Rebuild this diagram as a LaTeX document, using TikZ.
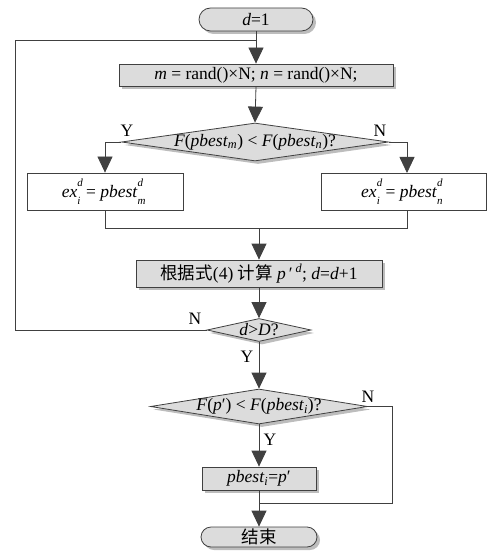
\documentclass[tikz,border=0pt]{standalone}
\usepackage{fontspec}
\setmainfont{Liberation Serif}
\newfontfamily\cjk{Noto Sans CJK SC}
\usetikzlibrary{arrows.meta,shapes.geometric,shapes.misc,shadows}
\definecolor{ln}{HTML}{404040}
\definecolor{fl}{HTML}{DCDCDC}
\definecolor{sh}{HTML}{BDBDBD}
\newcommand\ssc[3][0.5em]{\makebox[#1][l]{\rlap{\raisebox{0.6em}{\fontsize{11}{11}\selectfont\itshape #2}}\raisebox{-0.4em}{\fontsize{11}{11}\selectfont\itshape #3}}}
\begin{document}
\begin{tikzpicture}[x=1pt,y=-1pt,
  base/.style={draw=ln, line width=0.8pt, inner sep=0pt, font=\fontsize{17.5}{19}\selectfont},
  shd/.style={drop shadow={shadow xshift=3pt, shadow yshift=-3pt, fill=sh, opacity=1}},
  term/.style={base, shd, fill=fl, rounded rectangle},
  proc/.style={base, shd, fill=fl, rectangle},
  plain/.style={base, fill=white, rectangle},
  dec/.style={base, shd, fill=fl, diamond},
  lbl/.style={font=\fontsize{17.5}{19}\selectfont, inner sep=0pt},
  arr/.style={draw=ln, line width=0.8pt, -{Triangle[width=15pt,length=16pt]}},
  con/.style={draw=ln, line width=0.8pt}]
\useasboundingbox (0,0) rectangle (487,553);

\node[term, minimum width=114pt, minimum height=23pt] (start) at (256,19.5) {\textit{d}=1};
\node[proc, minimum width=274pt, minimum height=22pt] (b1) at (256,75) {\textit{m} = rand()×N; \textit{n} = rand()×N;};
\node[dec, minimum width=267pt, minimum height=38pt,
  label={[lbl]center:{\textit{F}(\textit{pbest}\textsubscript{\textit{m}}) < \textit{F}(\textit{pbest}\textsubscript{\textit{n}})?}}] (d1) at (255,142) {};
\node[plain, minimum width=156pt, minimum height=37pt] (b2) at (105,191.5) {\textit{ex}\ssc{d}{i}= \textit{pbest}\ssc[0.6em]{d}{m}};
\node[plain, minimum width=165pt, minimum height=37pt] (b3) at (403.5,191.5) {\textit{ex}\ssc{d}{i}= \textit{pbest}\ssc{d}{n}};
\node[proc, minimum width=246pt, minimum height=27pt] (b4) at (259,273.5) {{\cjk 根据式}(4) {\cjk 计算} \textit{p}\,′\,\textsuperscript{\textit{d}}; \textit{d}=\textit{d}+1};
\node[dec, minimum width=104pt, minimum height=23pt,
  label={[lbl]center:{\textit{d}>\textit{D}?}}] (d2) at (259,330) {};
\node[dec, minimum width=217pt, minimum height=35pt,
  label={[lbl]center:{\textit{F}(\textit{p}′) < \textit{F}(\textit{pbest}\textsubscript{\textit{i}})?}}] (d3) at (259,406.5) {};
\node[proc, minimum width=114pt, minimum height=23pt] (b5) at (259,478.5) {\textit{pbest}\textsubscript{\textit{i}}=\textit{p}′};
\node[term, minimum width=116pt, minimum height=20pt] (end) at (259,537) {{\cjk 结束}};

\node[lbl] (y1) at (127,131) {Y};
\node[lbl] (n1) at (380,131) {N};
\node[lbl] (n2) at (195,319) {N};
\node[lbl] (y2) at (247,357) {Y};
\node[lbl] (n3) at (368,397) {N};
\node[lbl] (y3) at (270,440) {Y};

\coordinate (j) at (256,40);
\coordinate (lt) at (15,40);
\coordinate (lb) at (15,330);
\coordinate (bt) at (407,173);
\coordinate (bb) at (407,210);
\coordinate (m2) at (105,228);
\coordinate (m3) at (407,228);
\coordinate (mc) at (259,228);
\coordinate (r1) at (392,406.5);
\coordinate (r2) at (392,503);
\coordinate (jc) at (259,503);

\draw[arr] (start.south) -- (b1.north);
\draw[arr] (b1.south) -- (d1.north);
\draw[arr] (d1.west) -| (b2.north);
\draw[arr] (d1.east) -| (bt);
\draw[con] (b2.south) -- (m2) -- (m3) -- (bb);
\draw[arr] (mc) -- (b4.north);
\draw[arr] (b4.south) -- (d2.north);
\draw[con] (d2.west) -- (lb) -- (lt) -- (j);
\draw[arr] (d2.south) -- (d3.north);
\draw[arr] (d3.south) -- (b5.north);
\draw[arr] (b5.south) -- (end.north);
\draw[con] (d3.east) -- (r1) -- (r2) -- (jc);
\end{tikzpicture}
\end{document}
